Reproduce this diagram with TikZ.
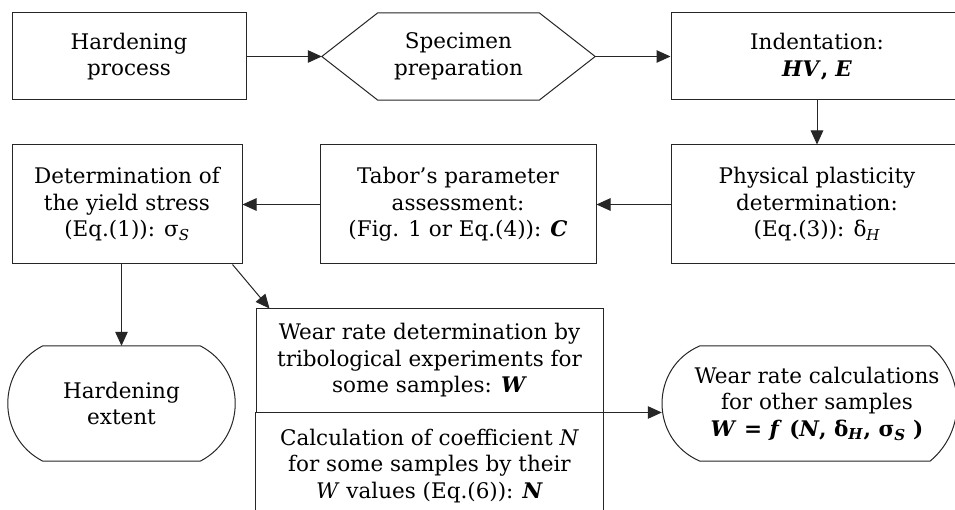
\documentclass[tikz,border=0pt]{standalone}
\usepackage{fontspec}
\setmainfont{DejaVu Serif}
\usetikzlibrary{arrows.meta}
\newcommand{\bi}[1]{\textbf{\textit{#1}}}
\begin{document}
\begin{tikzpicture}[x=1pt,y=-1pt,
  every node/.style={font=\fontsize{21.5}{26.5}\selectfont, align=center, inner sep=0pt, text=black},
  line/.style={line width=1pt, draw=black!85},
  box/.style={draw=black!85, line width=1pt},
  arr/.style={line, -{Triangle[length=14pt,width=12.5pt]}}]
\useasboundingbox (0,0) rectangle (955,510);
\fill[white] (0,0) rectangle (955,510);

% top row
\node[box, minimum width=234pt, minimum height=87pt] (hp) at (129,56.5) {Hardening\\process};
\node[minimum width=273pt, minimum height=87pt] (sp) at (458.5,56.5) {Specimen\\preparation};
\draw[line] (sp.west) -- ([xshift=56pt]sp.north west) -- ([xshift=-56pt]sp.north east) -- (sp.east)
  -- ([xshift=-56pt]sp.south east) -- ([xshift=56pt]sp.south west) -- cycle;
\node[box, minimum width=292pt, minimum height=87pt] (ind) at (817,56.5) {Indentation:\\\bi{HV}\textbf{,} \bi{E}};

% middle row
\node[box, minimum width=292pt, minimum height=119pt] (phy) at (817,204.5) {Physical plasticity\\determination:\\(Eq.(3)): δ\textsubscript{\textit{H}}};
\node[box, minimum width=276pt, minimum height=119pt] (tab) at (458,204.5) {Tabor’s parameter\\assessment:\\(Fig. 1 or Eq.(4)): \bi{C}};
\node[box, minimum width=230pt, minimum height=119pt] (det) at (127,204.5) {Determination of\\the yield stress\\(Eq.(1)): σ\textsubscript{\textit{S}}};

% bottom row
\node[minimum width=227pt, minimum height=115pt] (ext) at (121.5,403.5) {Hardening\\extent};
\draw[line] ([xshift=35pt]ext.north west) -- ([xshift=-35pt]ext.north east)
  .. controls +(46.7,24.1) and +(46.7,-24.1) .. ([xshift=-35pt]ext.south east)
  -- ([xshift=35pt]ext.south west)
  .. controls +(-46.7,-24.1) and +(-46.7,24.1) .. ([xshift=35pt]ext.north west) -- cycle;

\node[box, minimum width=347pt, minimum height=103pt] (wt) at (429.5,360.5) {Wear rate determination by\\tribological experiments for\\some samples: \bi{W}};
\node[minimum width=347pt, minimum height=108pt] (wb) at (429.5,466) {Calculation of coefficient \textit{N}\\for some samples by their\\\textit{W} values (Eq.(6)): \bi{N}};
\draw[line] (wb.north west) -- (wb.south west) (wb.north east) -- (wb.south east);

\node[minimum width=310pt, minimum height=115pt] (calc) at (817,403.5) {Wear rate calculations\\for other samples\\\textbf{\textit{W} = \textit{f} (\textit{N}, δ\textsubscript{\textit{H}}, σ\textsubscript{\textit{S}} )}};
\draw[line] ([xshift=-117pt]calc.north) -- ([xshift=113pt]calc.north)
  .. controls +(36.1,30.0) and +(36.1,-30.0) .. ([xshift=113pt]calc.south)
  -- ([xshift=-117pt]calc.south)
  .. controls +(-50.65,-21.6) and +(-50.65,21.6) .. ([xshift=-117pt]calc.north) -- cycle;

% connectors
\draw[arr] (hp.east) -- (sp.west);
\draw[arr] (sp.east) -- (ind.west);
\draw[arr] (ind.south) -- (phy.north);
\draw[arr] (phy.west) -- (tab.east);
\draw[arr] (tab.west) -- (det.east);
\draw[arr] (det.south -| ext.north) -- (ext.north);
\draw[arr] ([xshift=-10pt]det.south east) -- ([xshift=14pt]wt.north west);
\draw[arr] (wt.south east) -- (wt.south east -| calc.west);
\end{tikzpicture}
\end{document}
